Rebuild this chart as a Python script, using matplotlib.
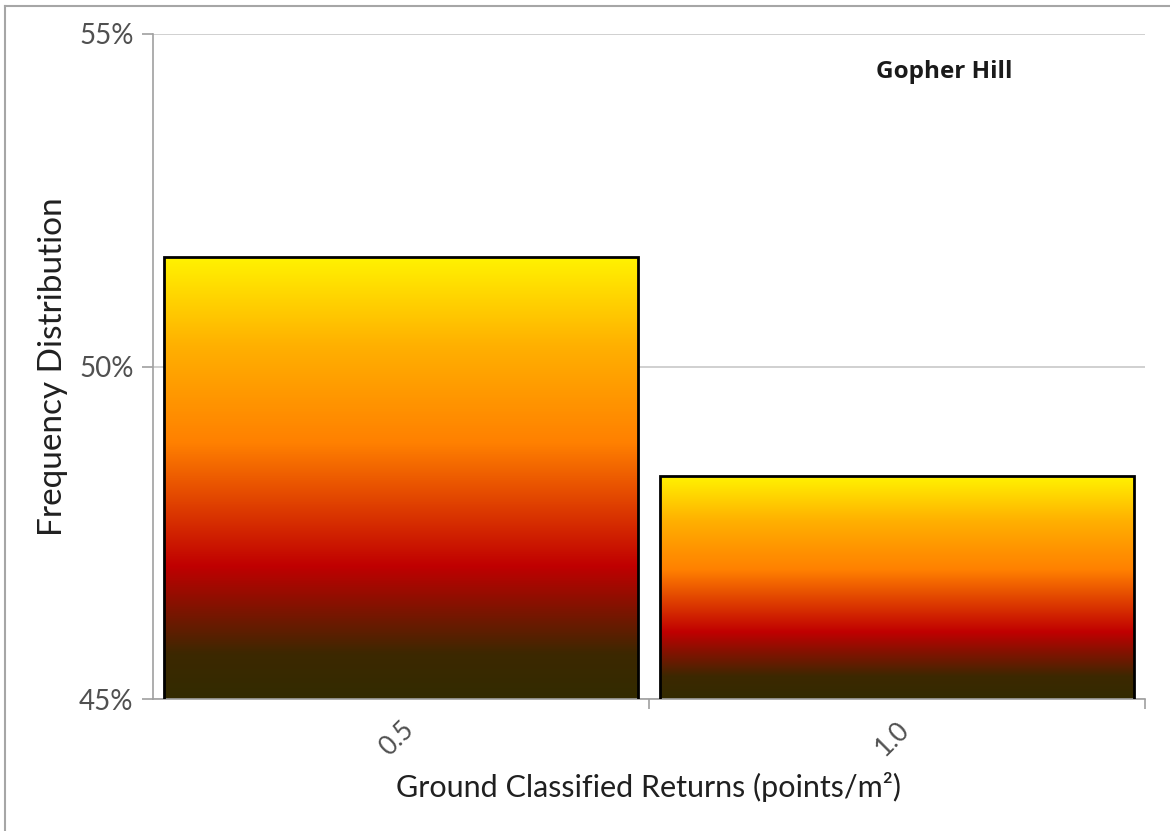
import numpy as np
import matplotlib
matplotlib.use("Agg")
import matplotlib.pyplot as plt
from matplotlib.colors import LinearSegmentedColormap
from matplotlib.lines import Line2D
from matplotlib.ticker import FuncFormatter, FixedLocator

categories = ["0.5", "1.0"]
values = [51.64, 48.35]
y_ticks = [45, 50, 55]

# yellow -> orange -> red -> dark brown, top to bottom of each bar
fire = LinearSegmentedColormap.from_list(
    "fire", [(0.0, "#332b00"), (0.1, "#3c2800"), (0.3, "#c00000"),
             (0.58, "#ff8000"), (0.8, "#ffb000"), (1.0, "#fff200")])

plt.rcParams['font.family'] = ['Lato', 'DejaVu Sans']

fig = plt.figure(figsize=(11.7, 8.31), dpi=100)
ax = fig.add_axes([0.1308, 0.1588, 0.8478, 0.8003])

# outer frame of the chart (only left and top edges show)
fig.lines.append(Line2D([5 / 1170, 5 / 1170], [0, 1 - 6 / 831],
                        transform=fig.transFigure, color="#a6a6a6", linewidth=1.5))
fig.lines.append(Line2D([5 / 1170, 1], [1 - 6 / 831, 1 - 6 / 831],
                        transform=fig.transFigure, color="#a6a6a6", linewidth=1.5))

x = np.arange(len(categories))
bars = ax.bar(x, values, width=0.954, bottom=0, color="none",
              edgecolor="black", linewidth=2, zorder=3)

grad = np.linspace(0, 1, 256).reshape(-1, 1)
for b in bars:
    x0, y1 = b.get_x(), b.get_height()
    im = ax.imshow(grad, cmap=fire, aspect="auto", origin="lower",
                   extent=[x0, x0 + b.get_width(), 45, y1], zorder=2)
    im.set_clip_path(b)

ax.set_xlim(-0.5, 1.5)
ax.set_ylim(45, 55)
ax.yaxis.set_major_locator(FixedLocator(y_ticks))
ax.yaxis.set_major_formatter(FuncFormatter(lambda v, p: f"{v:.0f}%"))
ax.set_xticks(x)
ax.set_xticklabels(categories, rotation=45, ha="right", va="top",
                   rotation_mode="anchor", fontsize=19, color="#505050")
ax.xaxis.set_minor_locator(FixedLocator([0.5, 1.5]))
ax.tick_params(axis="x", which="major", length=0, pad=13)
ax.tick_params(axis="x", which="minor", length=7, color="#a0a0a0", width=1.2)
ax.tick_params(axis="y", length=8, color="#a0a0a0", width=1.2,
               labelsize=20, labelcolor="#505050", pad=6)

ax.grid(axis="y", color="#c8c8c8", linewidth=1.2, zorder=0)
ax.set_axisbelow(True)
for s in ["top", "right"]:
    ax.spines[s].set_visible(False)
for s in ["left", "bottom"]:
    ax.spines[s].set_color("#a0a0a0")
    ax.spines[s].set_linewidth(1.2)

ax.set_ylabel("Frequency Distribution", fontsize=24, color="#202020", labelpad=8)
ax.set_xlabel("Ground Classified Returns (points/m²)", fontsize=22,
              color="#202020", labelpad=8)

ax.text(0.729, 0.943, "Gopher Hill", transform=ax.transAxes, fontsize=17.5,
        fontweight="bold", color="#1a1a1a", family=["Open Sans", "DejaVu Sans"],
        ha="left", va="center")

fig.savefig("out.png", dpi=100)
